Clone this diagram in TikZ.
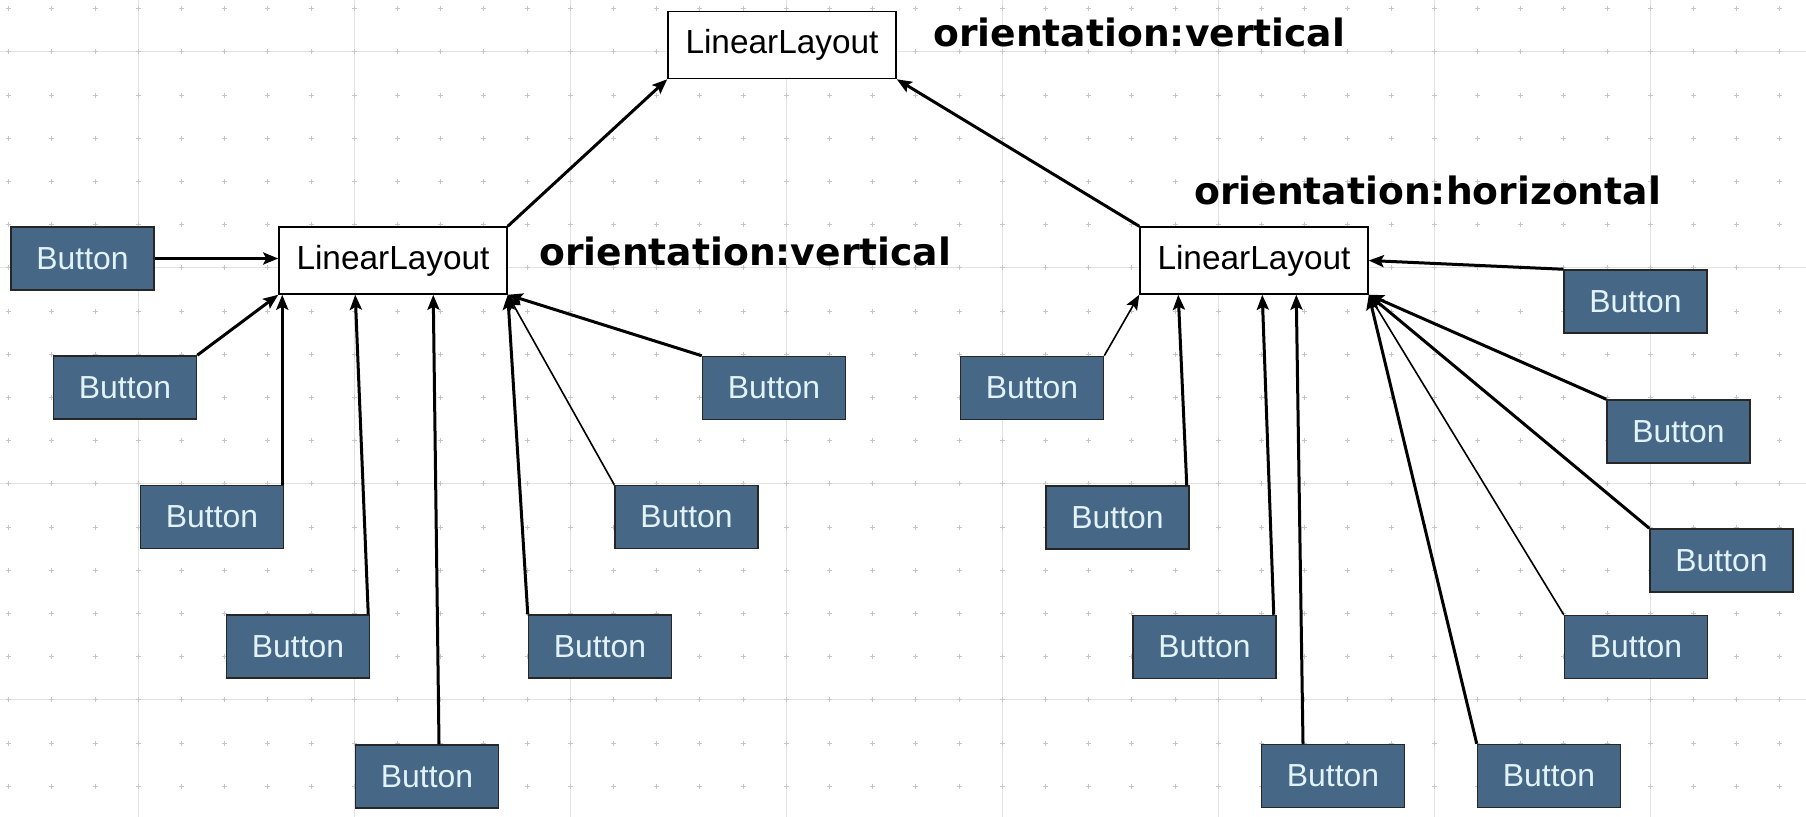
\documentclass[tikz,border=0pt]{standalone}
\usepackage{fontspec}
\setmainfont{Liberation Sans}
\newfontfamily\labelfont{DejaVu Sans}
\usetikzlibrary{arrows.meta}
\definecolor{btnfill}{RGB}{70,104,134}
\definecolor{btntext}{RGB}{225,242,248}
\definecolor{gridline}{RGB}{226,226,226}
\definecolor{griddot}{RGB}{198,198,198}

\begin{document}
\begin{tikzpicture}[x=1bp,y=-1bp,
  button/.style={draw=black!85, line width=1.5bp, fill=btnfill, text=btntext,
    minimum width=143bp, minimum height=63bp, inner sep=0pt,
    font=\fontsize{32}{36}\selectfont},
  layout/.style={draw=black, line width=1.5bp, fill=white,
    minimum width=228bp, minimum height=67bp, inner sep=0pt,
    font=\fontsize{33.5}{38}\selectfont},
  orient/.style={anchor=west, inner sep=0pt,
    font=\labelfont\bfseries\fontsize{37.8}{44}\selectfont},
  link/.style={line width=3bp, -{Stealth[length=15bp,width=12bp,inset=3bp]}},
  thinlink/.style={link, line width=1.6bp},
]
% canvas and background grid
\useasboundingbox (0,0) rectangle (1806,817);
\fill[white] (0,0) rectangle (1806,817);
\foreach \k in {0,...,7}
  \draw[gridline, line width=1.2bp] ({138.2+216*\k},0) -- ++(0,817);
\foreach \k in {0,...,3}
  \draw[gridline, line width=1.2bp] (0,{51.8+216*\k}) -- ++(1806,0);
\foreach \i in {0,...,41}
  \foreach \j in {0,...,18}
    \draw[griddot, line width=1bp]
      ({8.6+43.2*\i-2.5},{8.6+43.2*\j}) -- ++(5,0)
      ({8.6+43.2*\i},{8.6+43.2*\j-2.5}) -- ++(0,5);

% layouts
\node[layout] (top) at (782,45) {LinearLayout};
\node[layout] (ll)  at (393,260.5) {LinearLayout};
\node[layout] (rl)  at (1254,260.5) {LinearLayout};

\node[orient] (topo) at (933,32) {orientation:vertical};
\node[orient] (llo)  at (539,251) {orientation:vertical};
\node[orient] (rlo)  at (1194,190) {orientation:horizontal};

% buttons of the left layout
\node[button] (b1) at (82.5,258.5) {Button};
\node[button] (b2) at (125,387.5) {Button};
\node[button] (b3) at (212,517) {Button};
\node[button] (b4) at (298,646.5) {Button};
\node[button] (b5) at (427,776.5) {Button};
\node[button] (b6) at (600,646.5) {Button};
\node[button] (b7) at (686.5,517) {Button};
\node[button] (b8) at (774,388) {Button};

% buttons of the right layout
\node[button] (r1) at (1032,388) {Button};
\node[button] (r2) at (1117.5,517.5) {Button};
\node[button] (r3) at (1204.5,647) {Button};
\node[button] (r4) at (1333,776) {Button};
\node[button] (r5) at (1549,776) {Button};
\node[button] (r6) at (1636,647) {Button};
\node[button] (r7) at (1721.5,560.5) {Button};
\node[button] (r8) at (1678.5,431.5) {Button};
\node[button] (r9) at (1635.5,301.5) {Button};

% connectors into the left layout
\draw[link] (b1.east) -- (b1.east -| ll.west);
\draw[link] (b2.north east) -- (ll.south west);
\draw[link] ([xshift=-2bp]b3.north east) -- ([xshift=-2bp]b3.north east |- ll.south);
\draw[link] ([xshift=-2bp]b4.north east) -- ([xshift=77bp]ll.south west);
\draw[link] ([xshift=12bp]b5.north) -- ([xshift=155bp]ll.south west);
\draw[link] (b6.north west) -- (ll.south east);
\draw[thinlink] (b7.north west) -- (ll.south east);
\draw[link] (b8.north west) -- (ll.south east);

% connectors into the right layout
\draw[thinlink] (r1.north east) -- (rl.south west);
\draw[link] ([xshift=-3bp]r2.north east) -- ([xshift=39bp]rl.south west);
\draw[link] ([xshift=-3bp]r3.north east) -- ([xshift=123bp]rl.south west);
\draw[link] ([xshift=-30bp]r4.north) -- ([xshift=157bp]rl.south west);
\draw[link] (r5.north west) -- (rl.south east);
\draw[thinlink] (r6.north west) -- (rl.south east);
\draw[link] (r7.north west) -- (rl.south east);
\draw[link] (r8.north west) -- (rl.south east);
\draw[link] (r9.north west) -- (rl.east);

% nested layouts into the top layout
\draw[link] (ll.north east) -- (top.south west);
\draw[link] (rl.north west) -- (top.south east);
\end{tikzpicture}
\end{document}
